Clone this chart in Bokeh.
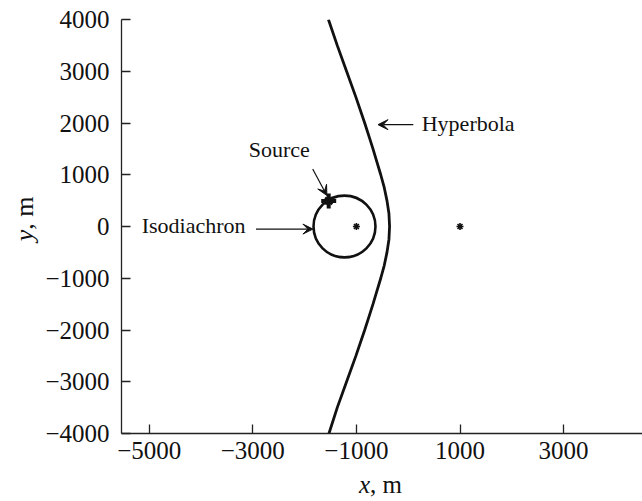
from bokeh.plotting import figure
from bokeh.layouts import gridplot
from bokeh.models import Range1d, FixedTicker, Label, Arrow, VeeHead
from bokeh.core.properties import value
from bokeh.embed import file_html
from bokeh.resources import INLINE

# --- data -------------------------------------------------------------
x_ticks = [-5000, -3000, -1000, 1000, 3000]
x_tick_labels = ["\u22125000", "\u22123000", "\u22121000", "1000", "3000"]
y_ticks = [-4000, -3000, -2000, -1000, 0, 1000, 2000, 3000, 4000]
y_tick_labels = ["\u22124000", "\u22123000", "\u22122000", "\u22121000", "0",
                 "1000", "2000", "3000", "4000"]

# hyperbola branch (x, y in metres)
hyp_y = [-4000, -3500, -3000, -2500, -2000, -1750, -1500, -1250, -1000, -750,
         -500, -250, 0, 250, 500, 750, 1000, 1250, 1500, 1750, 2000, 2500,
         3000, 3500, 4000]
hyp_x = [-1530, -1370, -1190, -1010, -840, -760, -680, -605, -530, -462,
         -410, -372, -360, -372, -410, -462, -530, -605, -680, -760, -840, -1010,
         -1190, -1370, -1540]

# receivers
rx_x = [-1000, 1000]
rx_y = [0, 0]

# source
src_x = [-1535]
src_y = [495]

# isodiachron circle
iso_cx = [-1230]
iso_cy = [0]
iso_r = [598]

SERIF = "Liberation Serif"
INK = "#111111"

x_rng = Range1d(-5535, 4523)
y_rng = Range1d(-4000, 4000)

# --- main plot --------------------------------------------------------
p = figure(width=602, height=469, output_backend="svg", toolbar_location=None,
           x_range=x_rng, y_range=y_rng,
           min_border_left=81, min_border_right=0, min_border_top=19,
           min_border_bottom=36, background_fill_color="white",
           border_fill_color="white")
p.outline_line_color = None
p.grid.visible = False

for ax in (p.xaxis[0], p.yaxis[0]):
    ax.axis_line_color = "#222222"
    ax.axis_line_width = 1.3
    ax.major_tick_line_color = "#222222"
    ax.major_tick_line_width = 1.3
    ax.major_tick_in = 9
    ax.major_tick_out = 0
    ax.minor_tick_line_color = None
    ax.major_label_text_font = SERIF
    ax.major_label_text_font_size = "25px"
    ax.major_label_text_color = INK

p.xaxis.ticker = FixedTicker(ticks=x_ticks)
p.yaxis.ticker = FixedTicker(ticks=y_ticks)
p.xaxis.major_label_overrides = dict(zip(x_ticks, x_tick_labels))
p.yaxis.major_label_overrides = dict(zip(y_ticks, y_tick_labels))
p.xaxis.major_label_standoff = 8
p.yaxis.major_label_standoff = 12

# curves
p.line(hyp_x, hyp_y, line_color=INK, line_width=2.8)
p.ellipse(x=iso_cx, y=iso_cy, width=[2 * r for r in iso_r],
          height=[2 * r for r in iso_r], fill_color=None,
          line_color=INK, line_width=2.6)

# markers
p.scatter(rx_x, rx_y, marker="asterisk", size=7, line_width=1.6,
          line_color=INK)
p.scatter(src_x, src_y, marker="cross", size=15, line_width=4,
          line_color=INK)
p.scatter(src_x, src_y, marker="x", size=10, line_width=2.5,
          line_color=INK)

# annotations
def add_text(x, y, txt, align="left", size="22px"):
    p.add_layout(Label(x=x, y=y, text=txt, text_font=SERIF,
                       text_font_size=size, text_color=INK,
                       text_align=align, text_baseline="alphabetic"))

add_text(-2488, 1490, "Source", align="center")
add_text(-5145, 15, "Isodiachron")
add_text(261, 1995, "Hyperbola")

def add_arrow(x0, y0, x1, y1):
    p.add_layout(Arrow(x_start=x0, y_start=y0, x_end=x1, y_end=y1,
                       line_color=INK, line_width=1.2,
                       end=VeeHead(size=10, line_color=INK,
                                   fill_color=INK, line_width=1)))

add_arrow(-1844, 1111, -1570, 600)
add_arrow(-2938, -50, -1840, -50)
add_arrow(98, 1968, -583, 1968)

# --- axis titles (italic variable + upright unit) -----------------------
def title_fig(w, h, xr, yr):
    f = figure(width=w, height=h, output_backend="svg", toolbar_location=None,
               x_range=xr, y_range=yr,
               x_axis_type=None, y_axis_type=None, min_border=0,
               background_fill_color="white", border_fill_color="white")
    f.outline_line_color = None
    f.grid.visible = False
    return f

# x title shares the x scale of the main plot
xl = title_fig(602, 32, x_rng, Range1d(0, 32))
xl.text(x=[-737], y=[17.5], text=["x"], text_font=value(SERIF),
        text_font_style="italic", text_font_size="25px", text_color=INK,
        text_align="right", text_baseline="alphabetic")
xl.text(x=[-737], y=[17.5], text=[", m"], text_font=value(SERIF),
        text_font_size="25px", text_color=INK,
        text_align="left", text_baseline="alphabetic")

# y title shares the y scale of the main plot
yl = title_fig(40, 469, Range1d(0, 40), y_rng)
yl.text(x=[24], y=[-64], text=["y"], text_font=value(SERIF),
        text_font_style="italic", text_font_size="26px", text_color=INK,
        text_align="right", text_baseline="alphabetic", angle=1.5708)
yl.text(x=[24], y=[-64], text=[", m"], text_font=value(SERIF),
        text_font_size="26px", text_color=INK,
        text_align="left", text_baseline="alphabetic", angle=1.5708)

grid = gridplot([[yl, p], [None, xl]], toolbar_location=None)

open("out.html", "w").write(file_html(grid, INLINE))
